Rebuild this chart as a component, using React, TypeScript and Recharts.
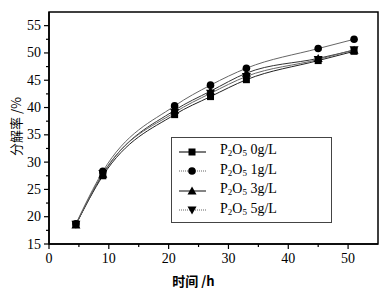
import { LineChart, Line, XAxis, YAxis, Legend, ReferenceArea } from 'recharts';

const hours = [4.5, 9, 21, 27, 33, 45, 51];
const p0 = [18.6, 27.5, 38.7, 42.0, 45.1, 48.6, 50.3];
const p1 = [18.7, 28.3, 40.3, 44.1, 47.2, 50.8, 52.5];
const p3 = [18.5, 27.8, 39.5, 43.0, 46.3, 49.0, 50.5];
const p5 = [18.6, 27.9, 39.1, 42.6, 45.7, 48.8, 50.6];

const xTicks = [0, 5, 10, 15, 20, 25, 30, 35, 40, 45, 50];
const yTicks = [15, 17.5, 20, 22.5, 25, 27.5, 30, 32.5, 35, 37.5, 40, 42.5, 45, 47.5, 50, 52.5, 55];

const data = hours.map((h, i) => ({ h, p0: p0[i], p1: p1[i], p3: p3[i], p5: p5[i] }));

const series = [
  { key: 'p0', label: '0g/L', shape: 'square', stroke: '#222', dash: undefined },
  { key: 'p1', label: '1g/L', shape: 'circle', stroke: '#666', dash: '1 1' },
  { key: 'p3', label: '3g/L', shape: 'up', stroke: '#333', dash: undefined },
  { key: 'p5', label: '5g/L', shape: 'down', stroke: '#666', dash: '1 1' },
];

const serif = '"Liberation Serif", "Times New Roman", serif';
const cjk = '"Noto Sans CJK SC", sans-serif';

function Marker({ shape, cx, cy }: { shape: string; cx: number; cy: number }) {
  if (shape === 'square') return <rect x={cx - 3.5} y={cy - 3.5} width={7} height={7} fill="#000" />;
  if (shape === 'circle') return <circle cx={cx} cy={cy} r={3.8} fill="#000" />;
  if (shape === 'up') return <path d={`M${cx},${cy - 4.5}L${cx + 4.5},${cy + 3.5}L${cx - 4.5},${cy + 3.5}Z`} fill="#000" />;
  return <path d={`M${cx},${cy + 4.5}L${cx + 4.5},${cy - 3.5}L${cx - 4.5},${cy - 3.5}Z`} fill="#000" />;
}

const makeDot = (shape: string) => (props: any) => {
  const { cx, cy, index } = props;
  return <Marker key={index} shape={shape} cx={cx} cy={cy} />;
};

const YTick = ({ x, y, payload }: any) => {
  const major = payload.value % 5 === 0;
  return (
    <g>
      <line x1={x} x2={x - (major ? 5 : 3)} y1={y} y2={y} stroke="#000" strokeWidth={1.2} />
      {major && (
        <text x={x - 8} y={y} dy={4.5} textAnchor="end" style={{ fontSize: 14, fontFamily: serif }} fill="#000">
          {payload.value}
        </text>
      )}
    </g>
  );
};

const XTick = ({ x, y, payload }: any) => {
  const major = payload.value % 10 === 0;
  return (
    <g>
      <line x1={x} x2={x} y1={y} y2={y + (major ? 5 : 3)} stroke="#000" strokeWidth={1.2} />
      {major && (
        <text x={x} y={y} dy={19} textAnchor="middle" style={{ fontSize: 14, fontFamily: serif }} fill="#000">
          {payload.value}
        </text>
      )}
    </g>
  );
};

const LegendBox = () => (
  <div
    style={{
      border: '1px solid #444',
      background: '#fff',
      padding: '4px 0 2px 6px',
      fontFamily: serif,
      fontSize: 14,
      lineHeight: '16.5px',
    }}
  >
    {series.map(s => (
      <div key={s.key} style={{ display: 'flex', alignItems: 'center' }}>
        <svg width={34} height={14}>
          <line x1={1} x2={28} y1={7} y2={7} stroke={s.stroke} strokeWidth={1.2} strokeDasharray={s.dash} />
          <Marker shape={s.shape} cx={14} cy={7} />
        </svg>
        <span style={{ marginLeft: 8 }}>
          P<span style={{ fontSize: 9, verticalAlign: '-2px' }}>2</span>O<span style={{ fontSize: 9, verticalAlign: '-2px' }}>5</span> {s.label}
        </span>
      </div>
    ))}
  </div>
);

export default function App() {
  return (
    <div style={{ position: 'absolute', left: 0, top: 0, width: 390, height: 301, background: '#fff' }}>
      <LineChart width={390} height={301} data={data} margin={{ top: 12, right: 12, bottom: 27, left: 0 }}>
        <ReferenceArea x1={0} x2={55} y1={15} y2={57.5} fill="none" stroke="#000" strokeWidth={1.5} ifOverflow="visible" />
        <XAxis
          dataKey="h"
          type="number"
          domain={[0, 55]}
          ticks={xTicks}
          interval={0}
          tickLine={false}
          tickSize={0}
          tickMargin={0}
          tick={<XTick />}
          stroke="#000"
          strokeWidth={1.5}
          height={30}
          label={{ value: '时间 /h', position: 'insideBottom', offset: -12, dx: -20, fontSize: 13, fontFamily: cjk, fontWeight: 700, fill: '#000' }}
        />
        <YAxis
          type="number"
          domain={[15, 57.5]}
          ticks={yTicks}
          interval={0}
          allowDecimals
          tickLine={false}
          tickSize={0}
          tickMargin={0}
          tick={<YTick />}
          stroke="#000"
          strokeWidth={1.5}
          width={49}
          label={{ value: '分解率 /%', angle: -90, position: 'insideLeft', offset: 16, dy: 28, fontSize: 13, fontFamily: cjk, fill: '#000' }}
        />
        {series.map(s => (
          <Line
            key={s.key}
            dataKey={s.key}
            type="monotone"
            stroke={s.stroke}
            strokeWidth={1}
            dot={makeDot(s.shape)}
            activeDot={false}
            isAnimationActive={false}
          />
        ))}
        <Legend
          layout="vertical"
          align="center"
          verticalAlign="middle"
          content={<LegendBox />}
          wrapperStyle={{ left: 171, top: 137, width: 161, height: 'auto' }}
        />
      </LineChart>
    </div>
  );
}
